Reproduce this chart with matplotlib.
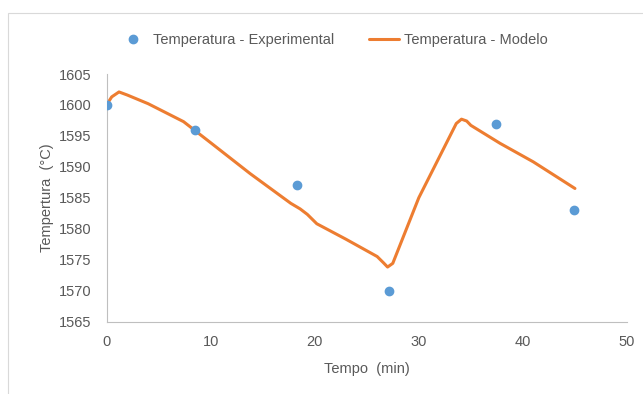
import matplotlib
matplotlib.use("Agg")
from matplotlib import pyplot as plt
from matplotlib.patches import Rectangle

# experimental readings
t_exp = [0, 8.5, 18.3, 27.1, 37.4, 44.9]
temp_exp = [1600, 1596, 1587, 1570, 1597, 1583]

# model curve
t_mod = [0, 0.5, 1.2, 2.0, 4.0, 7.4, 10.0, 13.8, 17.7, 18.6, 19.3, 20.2, 23.0, 26.0, 26.6, 27.0, 27.5,
         30.0, 33.6, 34.1, 34.6, 35.0, 37.8, 41.0, 45.0]
temp_mod = [1600, 1601.3, 1602.1, 1601.6, 1600.2, 1597.3, 1593.9, 1588.9, 1584.1, 1583.2, 1582.3, 1580.8,
            1578.3, 1575.5, 1574.5, 1573.8, 1574.4, 1585.0, 1597.0, 1597.7, 1597.4, 1596.7, 1593.8,
            1590.8, 1586.5]

yticks = [1565, 1570, 1575, 1580, 1585, 1590, 1595, 1600, 1605]
xticks = [0, 10, 20, 30, 40, 50]

blue = "#5B9BD5"
orange = "#ED7D31"
grey_txt = "#595959"

plt.rcParams["font.family"] = ["Liberation Sans", "DejaVu Sans"]

fig = plt.figure(figsize=(6.43, 3.94), dpi=100)
fig.patches.append(Rectangle((8 / 643, -0.1), 1.2, 1 - 13 / 394 + 0.1, transform=fig.transFigure,
                             fill=False, edgecolor="#D9D9D9", linewidth=0.8))
ax = fig.add_axes([106.5 / 643, 1 - 321.5 / 394, 520.5 / 643, 247.5 / 394])

ax.plot(t_exp, temp_exp, "o", color=blue, markersize=6, label="Temperatura - Experimental", zorder=3)
ax.plot(t_mod, temp_mod, "-", color=orange, linewidth=2.2, label="Temperatura - Modelo",
        solid_joinstyle="round", solid_capstyle="round")

ax.set_xlim(0, 50)
ax.set_ylim(1565, 1605)
ax.set_xticks(xticks)
ax.set_yticks(yticks)
ax.tick_params(length=0, labelsize=10.5, colors=grey_txt)
ax.tick_params(axis="y", pad=11)
ax.tick_params(axis="x", pad=10)
for s in ("top", "right"):
    ax.spines[s].set_visible(False)
for s in ("left", "bottom"):
    ax.spines[s].set_color("#BFBFBF")
    ax.spines[s].set_linewidth(0.8)

ax.set_xlabel("Tempo  (min)", fontsize=10.5, color=grey_txt, labelpad=9)
ax.set_ylabel("Tempertura  (°C)", fontsize=10.5, color=grey_txt, labelpad=3)

fig.legend(loc="center", bbox_to_anchor=(333 / 643, 1 - 40 / 394), ncol=2, frameon=False,
           fontsize=10.5, labelcolor=grey_txt, handlelength=2.05, columnspacing=2.4, handletextpad=0.35)

fig.savefig("out.png", dpi=100)
